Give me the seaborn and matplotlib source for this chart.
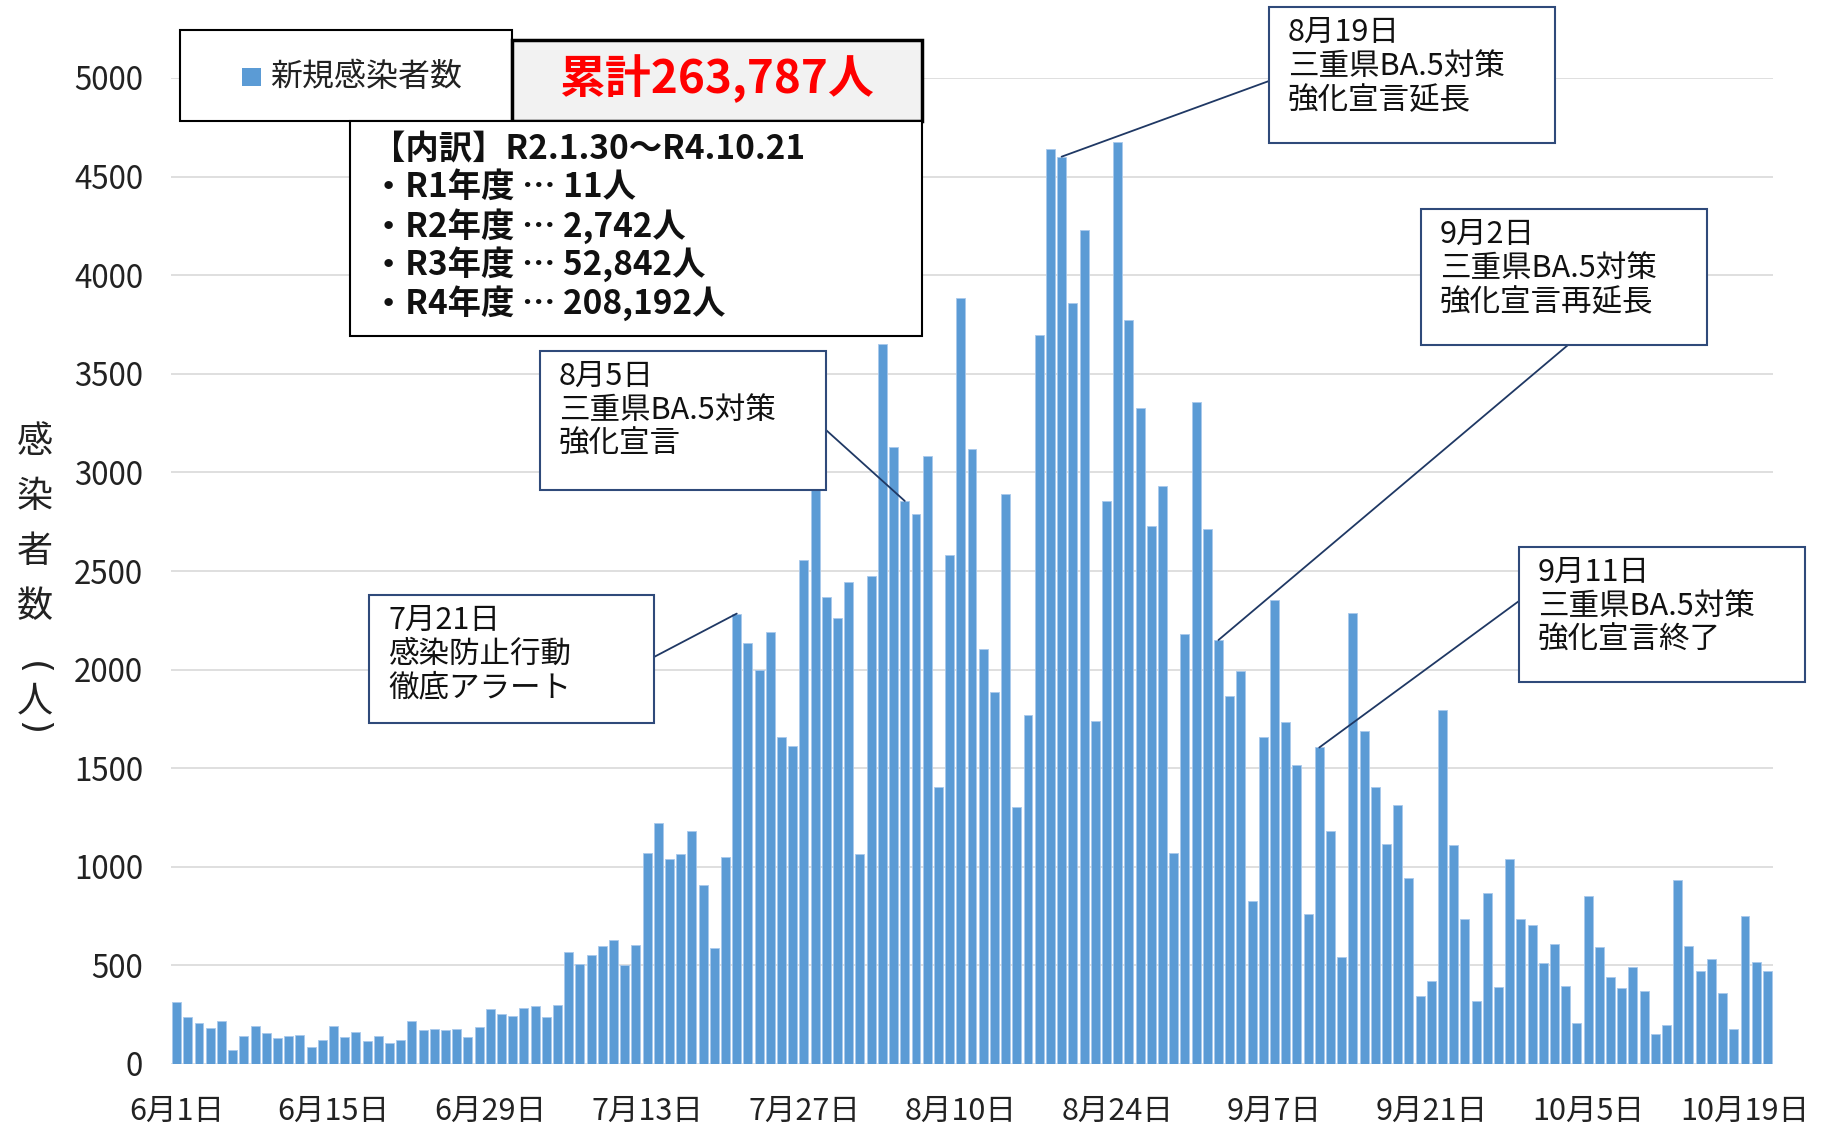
import pandas as pd
import matplotlib
matplotlib.use("Agg")
import matplotlib.pyplot as plt
from matplotlib.patches import Rectangle
import seaborn as sns

# daily new cases, 2022-06-01 .. 2022-10-21
dates = pd.date_range("2022-06-01", "2022-10-21", freq="D")
cases_jun = [313, 237, 210, 185, 218, 71, 144, 191, 156, 130, 141, 146, 86, 122, 191,
             139, 161, 119, 142, 105, 120, 218, 174, 178, 174, 180, 135, 188, 279, 256]
cases_jul = [244, 284, 296, 237, 300, 568, 509, 551, 596, 631, 502, 603, 1068, 1224, 1038,
             1063, 1184, 909, 589, 1052, 2284, 2136, 2000, 2191, 1660, 1612, 2555, 2960, 2368,
             2260, 2442]
cases_aug = [1066, 2474, 3649, 3130, 2855, 2791, 3085, 1405, 2582, 3884, 3117, 2104, 1884,
             2890, 1305, 1770, 3698, 4640, 4601, 3859, 4228, 1741, 2856, 4673, 3773, 3328,
             2727, 2929, 1072, 2180, 3357]
cases_sep = [2714, 2150, 1866, 1991, 828, 1660, 2351, 1734, 1514, 761, 1605, 1184, 541, 2289,
             1691, 1407, 1115, 1311, 945, 347, 423, 1797, 1109, 737, 319, 869, 391, 1040, 737, 703]
cases_oct = [514, 610, 395, 210, 853, 592, 442, 386, 493, 368, 152, 197, 934, 596, 471, 534,
             362, 176, 750, 518, 471]
cases = cases_jun + cases_jul + cases_aug + cases_sep + cases_oct

yticks = list(range(0, 5001, 500))
tick_every = 14

legend_label = "新規感染者数"
total_label = "累計263,787人"
breakdown_lines = ["【内訳】R2.1.30～R4.10.21",
                   "・R1年度 … 11人",
                   "・R2年度 … 2,742人",
                   "・R3年度 … 52,842人",
                   "・R4年度 … 208,192人"]

# (date, text, box in px (x0, y0, x1, y1), line anchor on box in px)
events = [
    ("2022-07-21", "7月21日\n感染防止行動\n徹底アラート", (369, 595, 654, 723), (654, 657)),
    ("2022-08-05", "8月5日\n三重県BA.5対策\n強化宣言", (540, 351, 826, 490), (826, 430)),
    ("2022-08-19", "8月19日\n三重県BA.5対策\n強化宣言延長", (1269, 7, 1555, 143), (1269, 81)),
    ("2022-09-02", "9月2日\n三重県BA.5対策\n強化宣言再延長", (1421, 209, 1707, 345), (1568, 345)),
    ("2022-09-11", "9月11日\n三重県BA.5対策\n強化宣言終了", (1519, 547, 1805, 682), (1519, 601)),
]

df = pd.DataFrame({"date": dates.strftime("%Y-%m-%d"), "cases": cases})

sns.set_style("white")
plt.rcParams["font.family"] = ["Noto Sans CJK JP", "DejaVu Sans"]

W, H = 1825, 1127
fx = lambda px: px / W
fy = lambda py: 1 - py / H

fig = plt.figure(figsize=(18.25, 11.27), dpi=100)
ax = fig.add_axes([fx(171), fy(1064), fx(1773) - fx(171), fy(78) - fy(1064)])

sns.barplot(data=df, x="date", y="cases", color="#5B9BD5", width=0.8,
            edgecolor="#A9C9EC", linewidth=0.6, saturation=1, errorbar=None, ax=ax)

ax.set_xlim(-0.5, len(df) - 0.5)
ax.set_ylim(0, 5000)
ax.set_yticks(yticks)
ax.set_yticklabels([str(v) for v in yticks], fontsize=22.5, color="#222222")
pos = list(range(0, len(df), tick_every))
ax.set_xticks(pos)
ax.set_xticklabels([f"{dates[p].month}月{dates[p].day}日" for p in pos], fontsize=22, color="#222222")
ax.tick_params(axis="y", length=0, pad=20)
ax.tick_params(axis="x", length=0, pad=23)
ax.set_xlabel("")
ax.set_ylabel("")
ax.grid(axis="y", color="#D9D9D9", linewidth=1.2)
ax.set_axisbelow(True)
sns.despine(ax=ax, left=True, right=True, top=True, bottom=True)

# vertical y label (stacked characters, brackets turned sideways)
for ch, py in zip("感染者数", [442, 497, 552, 607]):
    fig.text(fx(35), fy(py), ch, fontsize=26, ha="center", va="center", color="#222222")
fig.text(fx(33), fy(668), "(", fontsize=26, ha="center", va="center", rotation=-90,
         rotation_mode="anchor", color="#222222", family="DejaVu Sans")
fig.text(fx(35), fy(701), "人", fontsize=26, ha="center", va="center", color="#222222")
fig.text(fx(33), fy(728), ")", fontsize=26, ha="center", va="center", rotation=-90,
         rotation_mode="anchor", color="#222222", family="DejaVu Sans")


def box(x0, y0, x1, y1, ec, fc="white", lw=1.5):
    fig.add_artist(Rectangle((fx(x0), fy(y1)), fx(x1) - fx(x0), fy(y0) - fy(y1),
                             transform=fig.transFigure, facecolor=fc, edgecolor=ec,
                             linewidth=lw, zorder=5))


# legend + total
box(180, 30, 512, 121, "black", lw=1.5)
fig.add_artist(Rectangle((fx(242), fy(86)), fx(261) - fx(242), fy(68) - fy(86),
                         transform=fig.transFigure, facecolor="#5B9BD5", edgecolor="none", zorder=6))
fig.text(fx(270), fy(77), legend_label, fontsize=23, va="center", ha="left", zorder=6, color="#222222")
box(512, 40, 922, 121, "black", fc="#F2F2F2", lw=2.5)
fig.text(fx(716), fy(79), total_label, fontsize=33, fontweight="bold", color="#FF0000",
         va="center", ha="center", zorder=6)

# breakdown
box(350, 121, 922, 336, "black", lw=1.5)
for i, line in enumerate(breakdown_lines):
    fig.text(fx(372), fy(149 + i * 38.5), line, fontsize=24, fontweight="bold",
             va="center", ha="left", zorder=6, color="#111111")

# event call-outs
date_str = list(df["date"])
for d, txt, (x0, y0, x1, y1), (lx, ly) in events:
    i = date_str.index(d)
    ax.annotate("", xy=(i, cases[i]), xycoords="data",
                xytext=(fx(lx), fy(ly)), textcoords="figure fraction",
                arrowprops=dict(arrowstyle="-", color="#1F3864", lw=1.3,
                                shrinkA=0, shrinkB=0),
                annotation_clip=False)
    box(x0, y0, x1, y1, "#2F4A7A", lw=1.5)
    fig.text(fx(x0 + 19), fy(y0 + 10), txt, fontsize=22, va="top", ha="left",
             linespacing=1.12, zorder=6, color="#111111")

fig.savefig("out.png", dpi=100)
